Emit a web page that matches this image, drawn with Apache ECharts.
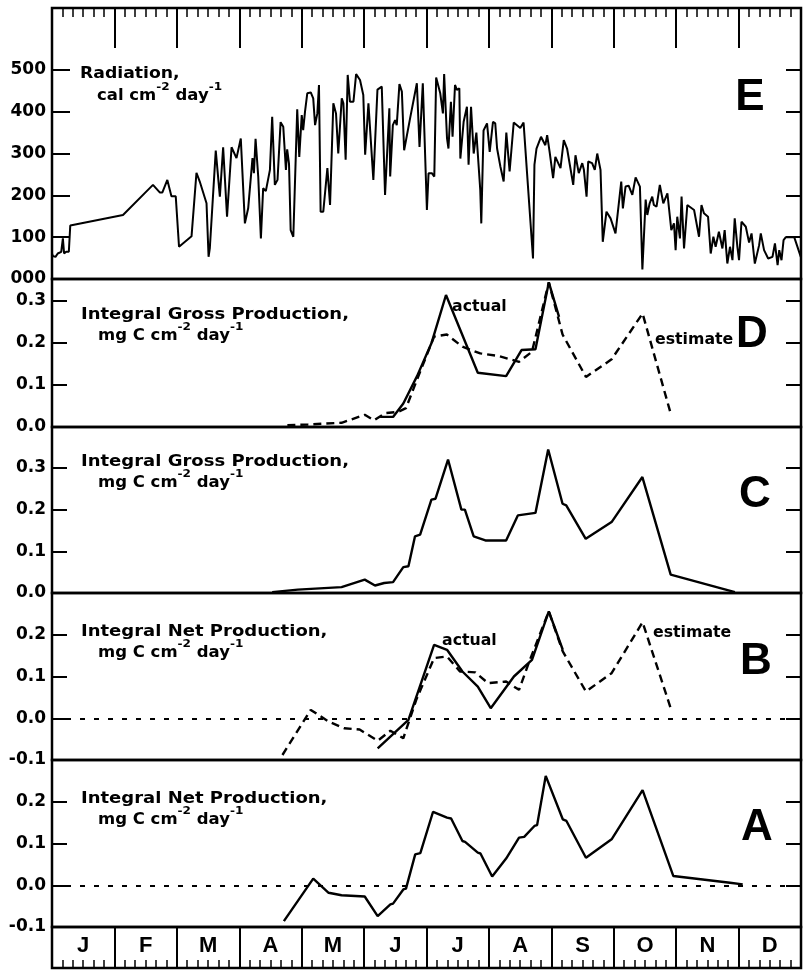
<!DOCTYPE html>
<html>
<head>
<meta charset="utf-8">
<script src="https://cdn.jsdelivr.net/npm/echarts@6/dist/echarts.min.js"></script>
<style>
  html, body { margin: 0; padding: 0; background: #fff; }
  #chart { width: 806px; height: 970px; }
</style>
</head>
<body>
<div id="chart"></div>
<script>
// Day of year, value pairs for each panel
const months = ['J', 'F', 'M', 'A', 'M', 'J', 'J', 'A', 'S', 'O', 'N', 'D'];

// E: daily radiation, cal cm-2 day-1
const radiation = [
  [0,61],[0.4,55],[1.7,53],[2.8,61],[3.7,57],[4.5,65],[5.3,97],[5.9,61],[6.9,65],[8.2,65],[8.9,128],
  [34.6,153],[49.2,225],[52.5,207],[53.8,207],[56.2,237],[58.2,198],[60.3,198],[61.9,77],[68.0,102],
  [70.4,254],[72.0,233],[75.3,181],[76.3,53],[76.9,73],[79.8,307],[81.8,197],[83.4,315],[85.3,149],
  [87.5,315],[89.9,289],[92.0,336],[94.0,133],[95.6,169],[96.4,169],[97.7,289],[98.4,253],[99.2,335],
  [100.5,245],[101.8,97],[102.9,217],[104.2,210],[106.2,261],[107.3,388],[108.6,225],[109.9,237],
  [111.4,375],[112.7,364],[114.0,261],[114.6,310],[115.5,275],[116.3,117],[117.6,101],[119.5,406],
  [120.5,292],[121.7,392],[122.4,356],[123.3,400],[124.4,444],[126.1,446],[127.3,432],[128.2,368],
  [129.3,396],[130.1,464],[130.9,161],[132.2,161],[134.2,265],[135.5,177],[137.1,420],[138.4,396],
  [139.5,300],[141.2,432],[142.0,420],[143.1,285],[144.1,488],[145.2,424],[146.9,424],[148.2,490],
  [150.1,476],[151.7,440],[152.6,297],[154.2,420],[156.6,237],[158.6,453],[160.7,460],[162.3,201],
  [164.4,408],[164.8,245],[166.1,368],[167.2,380],[168.0,368],[169.3,466],[170.5,448],[171.6,308],
  [174.5,384],[177.8,468],[179.1,316],[180.7,468],[182.7,165],[183.5,253],[185.1,253],[186.3,245],
  [187.2,482],[189.2,444],[190.5,396],[191.1,490],[192.5,336],[193.2,312],[194.4,424],[195.2,340],
  [196.4,464],[197.3,452],[198.5,456],[199.0,288],[200.6,376],[202.2,412],[203.0,273],[204.2,412],
  [205.5,300],[206.8,350],[208.7,213],[209.2,133],[210.3,355],[212.0,372],[213.3,304],[214.9,376],
  [216.0,372],[216.9,312],[218.5,269],[220.1,233],[221.4,350],[223.0,257],[225.0,374],[228.2,361],
  [229.8,374],[231.5,253],[234.4,49],[235.1,273],[236.1,312],[238.3,340],[240.4,320],[241.3,344],
  [242.5,304],[244.2,241],[245.3,292],[247.8,265],[249.4,332],[251.0,312],[254.0,225],[255.1,296],
  [256.7,253],[258.4,277],[259.2,261],[260.5,197],[261.3,281],[263.2,277],[264.5,261],[265.7,300],
  [267.3,261],[268.4,89],[270.2,161],[272.2,145],[274.6,109],[277.4,233],[278.2,169],[279.5,221],
  [281.0,223],[282.8,201],[284.4,243],[286.5,221],[287.7,23],[289.3,190],[290.1,153],[291.2,180],
  [292.5,197],[293.3,177],[294.6,173],[296.2,225],[297.9,181],[299.9,205],[301.8,117],[303.1,133],
  [303.9,69],[304.7,149],[306.0,97],[306.8,197],[308.0,73],[309.6,177],[312.9,165],[315.3,101],
  [316.5,177],[317.7,157],[319.7,149],[321.0,61],[322.3,101],[323.4,77],[325.0,113],[326.7,73],
  [327.8,117],[329.1,37],[330.4,77],[331.6,45],[332.7,145],[334.0,77],[334.8,45],[336.0,137],
  [338.1,125],[339.7,87],[340.9,109],[342.5,37],[344.6,81],[345.4,109],[347.0,69],[349.0,49],
  [351.1,53],[352.3,85],[353.6,33],[354.4,69],[355.5,45],[356.5,93],[357.6,100],[361.7,100],[364.9,53]
];

// D: integral gross production, actual and estimate
const grossActualD = [
  [159.9,0.024],[166.2,0.024],[171.2,0.056],[177.9,0.121],[184.9,0.199],[192.0,0.314],
  [207.5,0.129],[221.3,0.121],[228.8,0.183],[235.6,0.185],[242.1,0.344],[247.1,0.262]
];
const grossEstimateD = [
  [114.7,0.004],[124.8,0.006],[141.1,0.010],[152.4,0.029],[156.9,0.016],[162.4,0.033],
  [168.7,0.036],[172.5,0.045],[178.7,0.123],[186.2,0.215],[192.4,0.220],[200.0,0.191],
  [208.7,0.175],[217.6,0.169],[227.6,0.155],[233.9,0.179],[242.1,0.344],[248.8,0.220],
  [260.2,0.119],[272.7,0.161],[287.8,0.270],[301.5,0.032]
];

// C: integral gross production
const grossC = [
  [107.3,0.002],[119.8,0.008],[141.1,0.014],[152.4,0.032],[157.4,0.018],[161.9,0.024],
  [166.2,0.026],[171.2,0.062],[173.7,0.064],[176.9,0.136],[179.4,0.140],[184.9,0.224],
  [186.9,0.226],[193.0,0.320],[199.5,0.200],[201.2,0.200],[205.5,0.136],[211.2,0.126],
  [221.3,0.126],[227.0,0.186],[235.6,0.192],[241.8,0.344],[248.8,0.214],[250.6,0.210],
  [260.1,0.130],[272.7,0.170],[287.7,0.278],[301.5,0.044],[332.8,0.002]
];

// B: integral net production, actual and estimate
const netActualB = [
  [158.7,-0.072],[173.7,-0.004],[186.2,0.176],[192.5,0.164],[200.0,0.112],[207.5,0.076],
  [213.8,0.024],[225.1,0.100],[233.9,0.140],[242.1,0.256],[248.9,0.164]
];
const netEstimateB = [
  [112.3,-0.088],[126.1,0.020],[134.8,-0.008],[142.4,-0.024],[149.9,-0.027],[158.7,-0.054],
  [164.9,-0.030],[171.2,-0.048],[177.5,0.044],[186.2,0.144],[192.5,0.148],[198.8,0.112],
  [206.3,0.110],[212.5,0.084],[221.3,0.088],[227.6,0.068],[232.6,0.136],[242.1,0.256],
  [248.9,0.160],[260.2,0.064],[272.7,0.108],[287.8,0.230],[301.5,0.024]
];

// A: integral net production
const netA = [
  [113.0,-0.086],[127.3,0.016],[134.8,-0.018],[141.1,-0.024],[152.4,-0.027],[158.7,-0.074],
  [164.9,-0.046],[166.2,-0.044],[171.2,-0.010],[172.5,-0.008],[177.0,0.074],[179.5,0.077],
  [185.7,0.176],[192.5,0.162],[194.5,0.160],[200.0,0.106],[201.3,0.104],[207.5,0.078],
  [208.8,0.076],[214.5,0.021],[221.3,0.064],[227.6,0.114],[230.1,0.116],[235.1,0.142],
  [236.4,0.144],[240.6,0.262],[248.9,0.158],[250.7,0.154],[260.2,0.066],[272.7,0.110],
  [287.8,0.228],[302.8,0.022],[330.4,0.006],[336.6,0.002]
];

// Tick label values per panel
const radTicks = [0, 100, 200, 300, 400, 500];
const grossTicks = [0, 0.1, 0.2, 0.3];
const netTicks = [-0.1, 0, 0.1, 0.2];

const INK = '#000';
const TICK_FONT = 'DejaVu Sans, Liberation Sans, sans-serif';
const TEXT_FONT = 'DejaVu Sans, Liberation Sans, sans-serif';
const MONTH = 365 / 12;

const grids = [
  { top: 8,   height: 271 },  // E
  { top: 279, height: 148 },  // D
  { top: 427, height: 166 },  // C
  { top: 593, height: 167 },  // B
  { top: 760, height: 167 },  // A
  { top: 927, height: 41 }    // month strip
].map(g => Object.assign({ left: 52, right: 5, show: true, borderColor: INK, borderWidth: 2.5, backgroundColor: 'transparent' }, g));

function hiddenX(gi) {
  return { type: 'value', gridIndex: gi, min: 0, max: 365, show: false };
}

const xAxis = [
  { // top ruler: month ticks with 6 subdivisions
    type: 'value', gridIndex: 0, position: 'top', min: 0, max: 365, interval: MONTH,
    axisLine: { show: false, onZero: false },
    axisTick: { show: true, inside: true, length: 40, lineStyle: { color: INK, width: 2 } },
    minorTick: { show: true, splitNumber: 6, length: 9, lineStyle: { color: INK, width: 1.5 } },
    axisLabel: { show: false }, splitLine: { show: false }
  },
  hiddenX(1), hiddenX(2), hiddenX(3), hiddenX(4),
  { // month strip separators and bottom ruler
    type: 'value', gridIndex: 5, position: 'bottom', min: 0, max: 365, interval: MONTH,
    axisLine: { show: false, onZero: false },
    axisTick: { show: true, inside: true, length: 41, lineStyle: { color: INK, width: 2 } },
    minorTick: { show: true, splitNumber: 6, length: 8, lineStyle: { color: INK, width: 1.5 } },
    axisLabel: { show: false }, splitLine: { show: false }
  },
  { // month names
    type: 'category', gridIndex: 5, position: 'top', data: months, boundaryGap: true,
    axisLine: { show: false, onZero: false }, axisTick: { show: false }, splitLine: { show: false },
    axisLabel: {
      inside: true, margin: 8, color: INK, fontFamily: 'Liberation Sans, Arial, sans-serif', fontWeight: 'bold', fontSize: 22
    }
  }
];

function fmtGross(v) { return v.toFixed(1); }

function leftY(gi, min, max, labels, ticks, fmt, tickLen) {
  return {
    type: 'value', gridIndex: gi, min: min, max: max, position: 'left',
    axisLine: { show: false, onZero: false }, splitLine: { show: false },
    axisTick: { show: true, inside: true, length: tickLen, customValues: ticks, lineStyle: { color: INK, width: 2 } },
    axisLabel: { show: true, margin: 6, customValues: labels, formatter: fmt, color: INK,
      fontFamily: TICK_FONT, fontWeight: 'bold', fontSize: 17 }
  };
}
function rightY(gi, min, max, ticks) {
  return {
    type: 'value', gridIndex: gi, min: min, max: max, position: 'right',
    axisLine: { show: false, onZero: false }, splitLine: { show: false }, axisLabel: { show: false },
    axisTick: { show: true, inside: true, length: 15, customValues: ticks, lineStyle: { color: INK, width: 2 } }
  };
}

const yAxis = [
  leftY(0, 0, 648, radTicks, [100, 200, 300, 400, 500], v => v === 0 ? '000' : String(v), 18),
  rightY(0, 0, 648, [100, 200, 300, 400, 500]),
  leftY(1, 0, 0.352, grossTicks, [0.1, 0.2, 0.3], fmtGross, 15),
  rightY(1, 0, 0.352, [0.1, 0.2, 0.3]),
  leftY(2, 0, 0.398, grossTicks, [0.1, 0.2, 0.3], fmtGross, 15),
  rightY(2, 0, 0.398, [0.1, 0.2, 0.3]),
  leftY(3, -0.1, 0.3, netTicks, [0, 0.1, 0.2], fmtGross, 15),
  rightY(3, -0.1, 0.3, [0, 0.1, 0.2]),
  leftY(4, -0.1, 0.3, netTicks, [0, 0.1, 0.2], fmtGross, 15),
  rightY(4, -0.1, 0.3, [0, 0.1, 0.2]),
  { type: 'value', gridIndex: 5, show: false, min: 0, max: 1 }
];

function line(data, xi, yi, dashed, width) {
  return {
    type: 'line', data: data, xAxisIndex: xi, yAxisIndex: yi,
    showSymbol: false, symbol: 'none', silent: true, animation: false, clip: false,
    lineStyle: { color: INK, width: width || 2.4, type: dashed ? [8, 5] : 'solid' }
  };
}
function zeroLine() {
  return {
    silent: true, symbol: 'none', label: { show: false },
    lineStyle: { color: INK, width: 2, type: [5, 9] },
    data: [{ yAxis: 0 }]
  };
}

const series = [
  line(radiation, 0, 0, false, 2),
  line(grossActualD, 1, 2, false),
  line(grossEstimateD, 1, 2, true),
  line(grossC, 2, 4, false),
  Object.assign(line(netActualB, 3, 6, false), { markLine: zeroLine() }),
  line(netEstimateB, 3, 6, true),
  Object.assign(line(netA, 4, 8, false), { markLine: zeroLine() })
];

// Panel annotations
const normal = { fontFamily: TEXT_FONT, fontWeight: 'bold', fontSize: 15, color: INK, lineHeight: 22, verticalAlign: 'bottom' };
const sup = { fontFamily: TEXT_FONT, fontWeight: 'bold', fontSize: 11, color: INK, lineHeight: 12, verticalAlign: 'top' };

function plain(text, x, y, scale) {
  return {
    type: 'text', x: x, y: y, scaleX: scale || 1, silent: true,
    style: { text: text, fill: INK, font: 'bold 15px ' + TEXT_FONT, verticalAlign: 'middle', align: 'left' }
  };
}
function unitLine(prefix, x, y, scale) {
  return {
    type: 'text', x: x, y: y, scaleX: scale || 1, silent: true,
    style: {
      text: '{n|' + prefix + ' cm}{s|-2}{n| day}{s|-1}',
      rich: { n: normal, s: sup }, verticalAlign: 'middle', align: 'left'
    }
  };
}
function letter(t, x, y) {
  return {
    type: 'text', x: x, y: y, silent: true,
    style: { text: t, fill: INK, font: 'bold 44px Liberation Sans, Arial, sans-serif', align: 'center', verticalAlign: 'middle' }
  };
}

const graphic = [
  plain('Radiation,', 80, 74, 1.15),
  unitLine('cal', 97, 93, 1.1),
  plain('Integral Gross Production,', 81, 315, 1.2),
  unitLine('mg C', 98, 333, 1.1),
  plain('Integral Gross Production,', 81, 462, 1.2),
  unitLine('mg C', 98, 480, 1.1),
  plain('Integral Net Production,', 81, 632, 1.2),
  unitLine('mg C', 98, 650, 1.1),
  plain('Integral Net Production,', 81, 799, 1.2),
  unitLine('mg C', 98, 817, 1.1),
  plain('actual', 452, 307, 1.05),
  plain('estimate', 655, 340, 1.05),
  plain('actual', 442, 641, 1.05),
  plain('estimate', 653, 633, 1.05),
  letter('E', 750, 98),
  letter('D', 752, 335),
  letter('C', 755, 495),
  letter('B', 756, 662),
  letter('A', 757, 828)
];

const chart = echarts.init(document.getElementById('chart'), null, { renderer: 'canvas' });
chart.setOption({
  backgroundColor: '#fff',
  animation: false,
  grid: grids,
  xAxis: xAxis,
  yAxis: yAxis,
  series: series,
  graphic: graphic
});
</script>
</body>
</html>
